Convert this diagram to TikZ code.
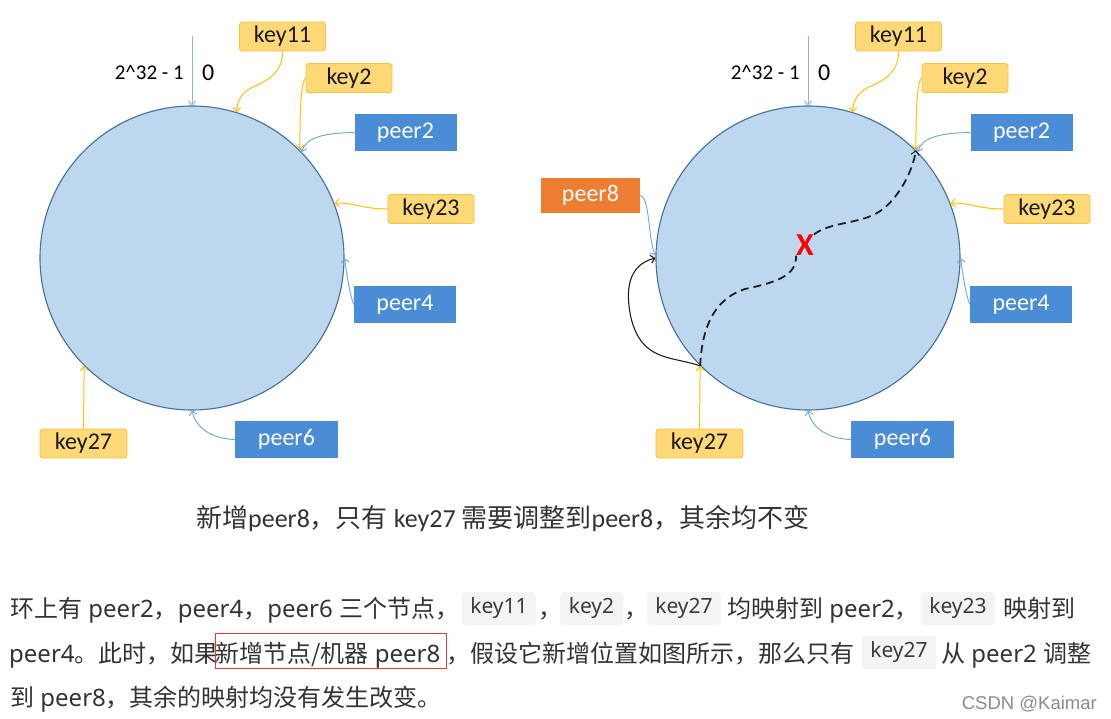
\documentclass[tikz,border=0pt]{standalone}
\usepackage{fontspec}
\setmainfont{Carlito}
\newfontfamily\cjkf{Noto Sans CJK SC}
\newfontfamily\latf{Noto Sans}
\newfontfamily\wmf{Liberation Sans}
\usetikzlibrary{arrows.meta}
\newcommand\myfs[1]{\fontsize{#1}{#1}\selectfont}
\newcommand\zh[1]{{\cjkf #1}}
\definecolor{ringfill}{HTML}{BDD7EE}
\definecolor{ringdraw}{HTML}{41719C}
\definecolor{keyfill}{HTML}{FFD978}
\definecolor{keydraw}{HTML}{F5C242}
\definecolor{keyline}{HTML}{FFC000}
\definecolor{peerfill}{HTML}{4A8DD6}
\definecolor{peerline}{HTML}{6FA3DC}
\definecolor{topline}{HTML}{8DB4E2}
\definecolor{peerorange}{HTML}{ED7D31}
\definecolor{paratext}{HTML}{333333}
\definecolor{codebg}{HTML}{F3F4F4}
\definecolor{codetext}{HTML}{3A3A3A}
\definecolor{redframe}{HTML}{E53935}
\definecolor{xred}{HTML}{FF0000}
\definecolor{darkline}{HTML}{1F1F1F}
\newcommand\ringpart[1]{%
  \node[ring] (#1r) at (192,258) {};
  \node[keybox] (#1k11) at (282.5,36.5) {key11};
  \node[keybox] (#1k2) at (349,78) {key2};
  \node[peerbox] (#1p2) at (405.5,132.5) {peer2};
  \node[keybox] (#1k23) at (431,209) {key23};
  \node[peerbox] (#1p4) at (405,304.5) {peer4};
  \node[peerbox,minimum width=103pt] (#1p6) at (286.5,439.5) {peer6};
  \node[keybox,minimum width=87pt] (#1k27) at (83.5,443.5) {key27};
  \coordinate (#1top) at (192,36);
  \draw[toparrow] (#1top) -- (#1r.north);
  \node[anchor=east,inner sep=0pt,font=\myfs{21}] (#1lab) at (184,72.5) {2\textasciicircum32 - 1};
  \node[anchor=west,inner sep=0pt,font=\myfs{24}] (#1zero) at (202,73) {0};
  \draw[keyarrow] (#1k11.south) .. controls (283,70) and (270,80) .. (255,86) .. controls (243,91) and (237,100) .. (#1r.73.5);
  \draw[keyarrow] (#1k2.west) .. controls (301,84) and (300,105) .. (#1r.45.5);
  \draw[peerarrow] (#1p2.west) .. controls (322,133) and (306,138) .. (#1r.44);
  \draw[keyarrow] (#1k23.west) .. controls (362,209) and (352,202) .. (#1r.21);
  \draw[peerarrow] (#1p4.west) .. controls (349,292) and (347,275) .. (#1r.0);
  \draw[peerarrow] (#1p6.west) .. controls (212,439) and (196,428) .. (#1r.270);
  \draw[keyarrow] (#1k27.north) -- (#1r.225.5);
}
\begin{document}
\begin{tikzpicture}[x=1pt,y=-1pt,
  ring/.style={circle,draw=ringdraw,fill=ringfill,line width=1.1pt,minimum size=304pt,inner sep=0pt},
  keybox/.style={rounded corners=3pt,draw=keydraw,fill=keyfill,line width=0.9pt,minimum width=86pt,minimum height=29pt,inner sep=0pt,font=\myfs{24},text=black!90},
  peerbox/.style={fill=peerfill,minimum width=102pt,minimum height=37pt,inner sep=0pt,font=\myfs{24},text=white},
  keyarrow/.style={draw=keyline,line width=1pt,-{Straight Barb[length=4pt,width=8pt]}},
  peerarrow/.style={draw=peerline,line width=0.9pt,-{Straight Barb[length=4pt,width=8pt]}},
  toparrow/.style={draw=topline,line width=1pt,-{Straight Barb[length=4pt,width=8pt]}},
  dashedmove/.style={draw=darkline,line width=1.8pt,dash pattern=on 8pt off 5pt},
  para/.style={anchor=base west,inner sep=0pt,font=\latf\myfs{24},text=paratext},
  code/.style={fill=codebg,rounded corners=3pt,minimum height=33pt,inner sep=0pt,font=\latf\myfs{21},text=codetext}
]
\fill[white] (0,0) rectangle (1111,719);
\useasboundingbox (0,0) rectangle (1111,719);

\begin{scope}
\ringpart{L}
\end{scope}
\begin{scope}[shift={(616,0)}]
\ringpart{R}
\end{scope}

% extras on the right diagram
\node[fill=peerorange,minimum width=99pt,minimum height=35pt,inner sep=0pt,font=\myfs{24},text=white] (p8) at (590.5,195.5) {peer8};
\draw[peerarrow] (p8.east) .. controls (650,197) and (648,240) .. (Rr.179);
\draw[draw=darkline,line width=1.1pt,-{Straight Barb[length=4pt,width=8pt]}] (Rr.225.5) .. controls (672,356) and (642,362) .. (631,318) .. controls (625,290) and (628,265) .. (Rr.180);
\node[inner sep=0pt,font=\bfseries\myfs{32},text=xred] (X) at (805,245) {X};
\draw[dashedmove] (Rr.225.5) .. controls (702,330) and (712,300) .. (745,289) .. controls (778,282) and (797,275) .. (X.south west);
\draw[dashedmove,-{Straight Barb[length=4pt,width=8pt,line width=1.1pt]}] (X.north east) .. controls (830,222) and (858,224) .. (877,213) .. controls (895,203) and (912,175) .. (Rr.45.5);

% caption
\node[anchor=base west,inner sep=0pt,font=\myfs{26},text=paratext] (cap) at (196,527) {\zh{新增}peer8\zh{，只有} key27 \zh{需要调整到}peer8\zh{，其余均不变}};

% paragraph line 1
\node[para] (a1) at (10,617) {\zh{环上有} peer2\zh{，}peer4\zh{，}peer6 \zh{三个节点，}};
\node[code,minimum width=74pt] (c1) at (499,608.5) {key11};
\node[para] (a2) at (538,617) {\zh{，}};
\node[code,minimum width=63pt] (c2) at (591.5,608.5) {key2};
\node[para] (a3) at (624,617) {\zh{，}};
\node[code,minimum width=74pt] (c3) at (684,608.5) {key27};
\node[para] (a4) at (727,617) {\zh{均映射到} peer2\zh{，}};
\node[code,minimum width=74pt] (c4) at (958,608.5) {key23};
\node[para] (a5) at (1003,617) {\zh{映射到}};

% paragraph line 2
\node[para] (b1) at (9,662) {peer4\zh{。此时，如果}};
\node[para] (b2) at (215,662) {\zh{新增节点/机器} peer8};
\draw[redframe,line width=1pt] (215,633) rectangle (446,668);
\node[para] (b3) at (446,662) {\zh{，假设它新增位置如图所示，那么只有}};
\node[code,minimum width=74pt] (c5) at (899,652.5) {key27};
\node[para] (b4) at (941,662) {\zh{从} peer2 \zh{调整}};

% paragraph line 3
\node[para] (d1) at (10,706) {\zh{到} peer8\zh{，其余的映射均没有发生改变。}};
\node[anchor=base east,inner sep=0pt,font=\wmf\myfs{18.5},text=black!45] (wm) at (1097,709) {CSDN @Kaimar};
\end{tikzpicture}
\end{document}
